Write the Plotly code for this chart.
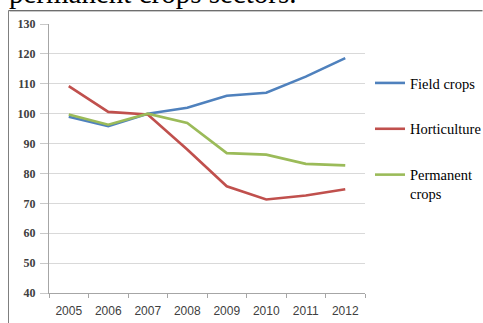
import plotly.graph_objects as go

years = ["2005", "2006", "2007", "2008", "2009", "2010", "2011", "2012"]
field_crops = [99.0, 95.8, 100.0, 102.0, 106.0, 107.0, 112.4, 118.6]
horticulture = [109.2, 100.6, 99.7, 88.0, 75.7, 71.3, 72.6, 74.7]
permanent_crops = [99.7, 96.3, 100.0, 96.9, 86.8, 86.3, 83.2, 82.7]
y_ticks = [40, 50, 60, 70, 80, 90, 100, 110, 120, 130]

W, H = 483, 323
L, R, T, B = 49, 118, 24, 30
pw, ph = W - L - R, H - T - B

def px(x):
    return (x - L) / pw

def py(y):
    return 1 - (y - T) / ph

fig = go.Figure()
series = [
    ("Field crops", field_crops, "#4F81BD"),
    ("Horticulture", horticulture, "#C0504D"),
    ("Permanent<br>crops", permanent_crops, "#9BBB59"),
]
for i, (name, vals, col) in enumerate(series):
    fig.add_trace(go.Scatter(
        x=years, y=vals, mode="lines", name=name,
        line=dict(color=col, width=2.6),
        legendgroup=f"g{i}",
    ))

grid = "#d9d9d9"
axis_col = "#a6a6a6"
fig.update_layout(
    width=W, height=H,
    margin=dict(l=L, r=R, t=T, b=B, pad=0, autoexpand=False),
    paper_bgcolor="white", plot_bgcolor="white",
    showlegend=True,
    legend=dict(
        x=px(370), y=py(67), xanchor="left", yanchor="top",
        font=dict(family="Liberation Serif", size=14.5, color="#000000"),
        traceorder="grouped", tracegroupgap=24, valign="top",
        bgcolor="rgba(0,0,0,0)", itemwidth=30,
    ),
    xaxis=dict(
        type="category", range=[-0.5, 7.5], showgrid=False, showline=True,
        linecolor=axis_col, linewidth=1, ticks="outside", ticklen=4,
        tickcolor=axis_col, tickson="boundaries", ticklabelstandoff=7,
        tickfont=dict(family="Liberation Sans", size=12, color="#404040"),
        fixedrange=True,
    ),
    yaxis=dict(
        range=[40, 130], tickvals=y_ticks, showgrid=True, gridcolor=grid,
        gridwidth=1.3, showline=True, linecolor=axis_col, linewidth=1,
        ticks="outside", ticklen=8, tickcolor="#c8c8c8", zeroline=False,
        ticklabelstandoff=2,
        tickfont=dict(family="Liberation Serif", size=12, color="#404040",
                      weight="bold"),
        fixedrange=True,
    ),
    shapes=[
        dict(type="line", xref="paper", yref="paper",
             x0=px(8.5), x1=px(482.5), y0=py(10.5), y1=py(10.5),
             line=dict(color="#6e6e6e", width=1), layer="below"),
        dict(type="line", xref="paper", yref="paper",
             x0=px(9.5), x1=px(482.5), y0=py(11.5), y1=py(11.5),
             line=dict(color="#c8c8c8", width=1), layer="below"),
        dict(type="line", xref="paper", yref="paper",
             x0=px(8.5), x1=px(8.5), y0=py(10.5), y1=py(323),
             line=dict(color="#7f7f7f", width=1), layer="below"),
    ],
    annotations=[
        dict(text="permanent crops sectors.", xref="paper", yref="paper",
             x=px(7), y=py(11), xanchor="left", yanchor="bottom",
             showarrow=False,
             font=dict(family="Liberation Serif", size=29, color="#000000")),
    ],
)

fig.write_html("out.html")
